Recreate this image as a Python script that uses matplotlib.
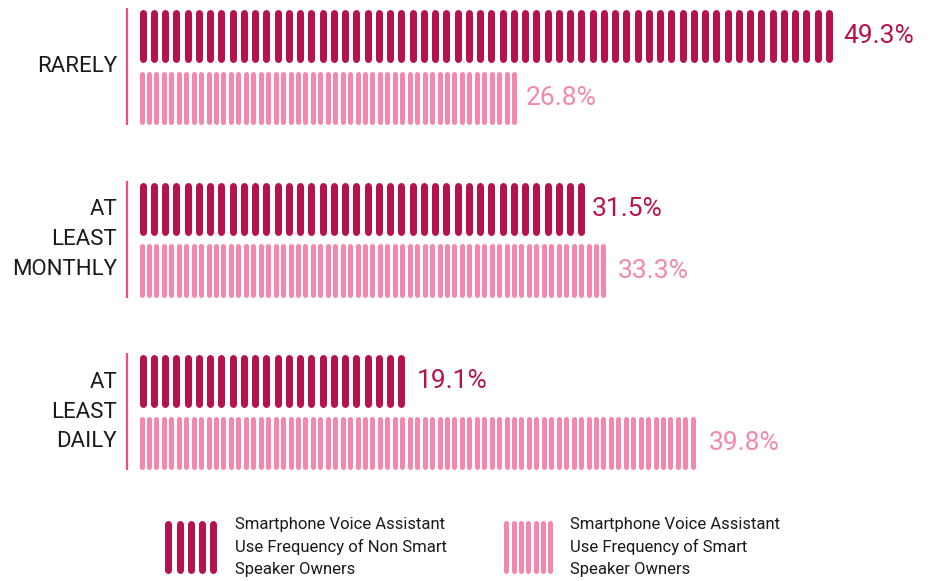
import numpy as np
import matplotlib.pyplot as plt

plt.rcParams['font.family'] = ['Roboto', 'DejaVu Sans']

categories = ['RARELY', 'AT\nLEAST\nMONTHLY', 'AT\nLEAST\nDAILY']
non_owners = [49.3, 31.5, 19.1]
owners = [26.8, 33.3, 39.8]
series_names = ['Smartphone Voice Assistant\nUse Frequency of Non Smart\nSpeaker Owners',
                'Smartphone Voice Assistant\nUse Frequency of Smart\nSpeaker Owners']

dark = '#b5134d'
light = '#f487ad'
axis_col = '#ee4b87'

W, H = 937, 581
fig = plt.figure(figsize=(W / 100, H / 100), dpi=100)

# 14.1 px per percent, 0% at x=139 px; 172.5 px per group, first group at y=67 px
ppu = 14.1
x0 = -1
left = 139 + x0 * ppu
width = 56 * ppu
gpx = 172.5
top_off = 67 / gpx
ax = fig.add_axes([left / W, (H - 3 * gpx) / H, width / W, 3 * gpx / H])
ax.set_xlim(x0, x0 + 56)
ax.set_ylim(3 - top_off, -top_off)
ax.axis('off')

px_x = 1 / ppu
px_y = 1 / gpx
bar_h = 53
off = 31


def stripes(y, value, sw, pitch, color):
    half = sw / 2 * px_x
    xs = np.arange(half, value, pitch * px_x)
    span = (bar_h - sw) / 2 * px_y
    ax.vlines(xs, y - span, y + span, colors=color, linewidth=sw * 0.72,
              capstyle='round')


for i, cat in enumerate(categories):
    yd = i - off * px_y
    yl = i + off * px_y
    stripes(yd, non_owners[i], 7, 11.25, dark)
    stripes(yl, owners[i], 5, 7.45, light)
    ax.text(non_owners[i] + 9 * px_x, yd, f'{non_owners[i]}%', color=dark,
            fontsize=19, va='center', ha='left')
    ax.text(owners[i] + 9 * px_x, yl, f'{owners[i]}%', color=light,
            fontsize=19, va='center', ha='left')
    ax.plot([-12 * px_x] * 2, [i - 59 * px_y, i + 58 * px_y], color=axis_col,
            lw=1.6, solid_capstyle='butt')
    ax.text(-22 * px_x, i, cat, ha='right', va='center', fontsize=16,
            color='#1a1a1a', linespacing=1.55)

# legend
lax = fig.add_axes([0, 0, 1, 1])
lax.set_xlim(0, W)
lax.set_ylim(H, 0)
lax.axis('off')
lax.patch.set_alpha(0)
for k in range(5):
    x = 168.5 + k * 11.25
    lax.vlines(x, 523.5, 569.5, colors=dark, linewidth=7 * 0.72, capstyle='round')
for k in range(7):
    x = 506.5 + k * 7.3
    lax.vlines(x, 522.5, 570.5, colors=light, linewidth=5 * 0.72, capstyle='round')
lax.text(235, 547, series_names[0], ha='left', va='center', fontsize=12,
         color='#1a1a1a', linespacing=1.55)
lax.text(570, 547, series_names[1], ha='left', va='center', fontsize=12,
         color='#1a1a1a', linespacing=1.55)

fig.savefig('out.png', dpi=100)
